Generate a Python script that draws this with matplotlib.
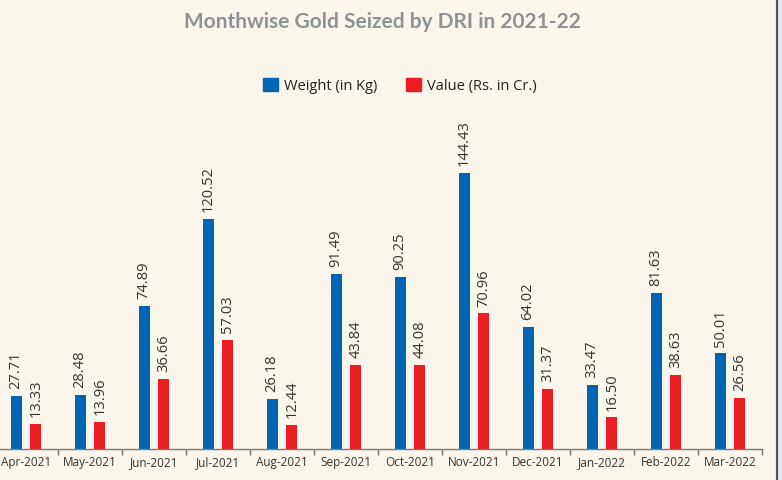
import numpy as np
import matplotlib.pyplot as plt
from matplotlib.patches import Patch, Rectangle
from matplotlib.lines import Line2D

# data
months = ['Apr-2021', 'May-2021', 'Jun-2021', 'Jul-2021', 'Aug-2021', 'Sep-2021',
          'Oct-2021', 'Nov-2021', 'Dec-2021', 'Jan-2022', 'Feb-2022', 'Mar-2022']
weight_kg = [27.71, 28.48, 74.89, 120.52, 26.18, 91.49, 90.25, 144.43, 64.02, 33.47, 81.63, 50.01]
value_cr = [13.33, 13.96, 36.66, 57.03, 12.44, 43.84, 44.08, 70.96, 31.37, 16.50, 38.63, 26.56]

bg = '#FBF6EC'
blue = '#0066B3'
red = '#ED1C24'

plt.rcParams['font.family'] = ['Open Sans', 'DejaVu Sans']

fig = plt.figure(figsize=(7.82, 4.8), dpi=100, facecolor=bg)
W, H = 782, 480
# axes placed in pixel terms
ax = fig.add_axes([-6 / W, (H - 449) / H, 768 / W, 339 / H])
ax.set_facecolor(bg)

x = np.arange(len(months))
bw = 0.172
off = 0.156
b1 = ax.bar(x - off, weight_kg, bw, color=blue)
b2 = ax.bar(x + off, value_cr, bw, color=red)

for bars, vals in ((b1, weight_kg), (b2, value_cr)):
    for r, v in zip(bars, vals):
        ax.annotate(f'{v:.2f}', (r.get_x() + r.get_width() / 2, r.get_height()),
                    xytext=(0, 5), textcoords='offset points', rotation=90,
                    ha='center', va='bottom', fontsize=10.5, color='#333333')

ax.set_xlim(-0.5, 11.5)
ax.set_ylim(0, 177.5)
for s in ['top', 'left', 'right']:
    ax.spines[s].set_visible(False)
ax.spines['bottom'].set_color('#777777')
ax.spines['bottom'].set_linewidth(1.0)
ax.set_yticks([])
ax.set_xticks(x)
ax.set_xticklabels(months, fontsize=8.5, color='#333333')
ax.tick_params(axis='x', which='major', length=0, pad=5)
ax.set_xticks(np.append(x - 0.5, 11.5), minor=True)
ax.tick_params(axis='x', which='minor', length=4.5, color='#777777', width=1.0)

fig.text(382 / W, 1 - 22 / H, 'Monthwise Gold Seized by DRI in 2021-22',
         ha='center', va='center', fontsize=15, fontweight='bold', color='#8E9196',
         family=['Lato', 'DejaVu Sans'])

handles = [Patch(color=blue, label='Weight (in Kg)'), Patch(color=red, label='Value (Rs. in Cr.)')]
fig.legend(handles=handles, loc='center', bbox_to_anchor=(400 / W, 1 - 86 / H), ncol=2,
           frameon=False, fontsize=10.5, handlelength=1.0, handleheight=1.0,
           handletextpad=0.4, columnspacing=2.0, labelcolor='#222222')

# right border strip
fig.add_artist(Rectangle((777 / W, 0), 5 / W, 1, transform=fig.transFigure,
                         color='#DDE8F5', zorder=0))
fig.add_artist(Line2D([776.5 / W, 776.5 / W], [0, 1], transform=fig.transFigure,
                      color='#555555', lw=1.5))

fig.savefig('out.png', dpi=100, facecolor=bg)
